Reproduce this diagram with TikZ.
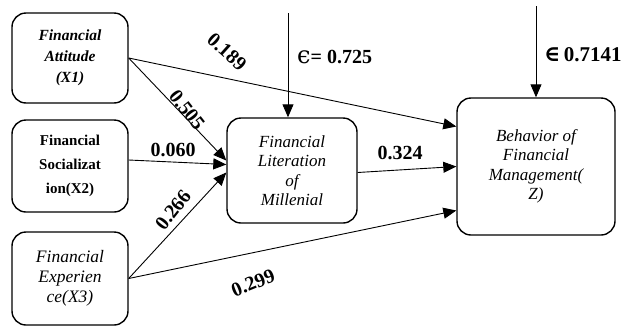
\documentclass[tikz,border=0pt]{standalone}
\usepackage{fontspec}
\setmainfont{Liberation Serif}
\newfontfamily\symfont{DejaVu Serif}
\usepackage{tikz}
\usetikzlibrary{
  arrows.meta,
  calc
}
\newcommand{\boxfont}{\fontsize{15.5}{21}\selectfont}
\newcommand{\litfont}{\fontsize{17}{19.5}\selectfont}
\newcommand{\coeffont}{\fontsize{20}{22}\selectfont\bfseries}

\begin{document}
\begin{tikzpicture}[x=1pt,y=-1pt,
  var/.style ={draw,line width=1.4pt,rounded corners=14pt,align=center,
               inner sep=2pt,font=\boxfont},
  coef/.style={inner sep=0pt,font=\coeffont},
  arr/.style ={-{Triangle[length=13pt,width=11pt]},line width=0.9pt},
]
\useasboundingbox (0,0) rectangle (632,327);

\node[var,minimum width=116,minimum height=90,font=\boxfont\bfseries\itshape]
  (x1) at (70,58) {Financial\\ Attitude\\ (X1)};
\node[var,minimum width=116,minimum height=92,font=\fontsize{15}{24}\selectfont\bfseries]
  (x2) at (70,166) {Financial\\ Socializat\\ ion(X2)};
\node[var,minimum width=116,minimum height=93,font=\fontsize{17.5}{20}\selectfont\itshape]
  (x3) at (70,278.5) {Financial\\ Experien\\ ce(X3)};
\node[var,minimum width=130,minimum height=105,font=\litfont\itshape]
  (lit) at (292,170.5) {Financial\\ Literation\\ of\\ Millenial};
\node[var,minimum width=158,minimum height=137,font=\litfont\itshape]
  (z) at (536,166.5) {Behavior of\\ Financial\\ Management(\\ Z)};

\draw[arr] (x1.east) -- ($(z.west)+(0,-40)$);
\draw[arr] (x1.east) -- ($(lit.west)+(0,-10)$);
\draw[arr] ($(x2.east)+(0,-6)$) -- ($(lit.west)+(0,-6)$);
\draw[arr] (x3.east) -- ($(lit.west)+(0,2)$);
\draw[arr] (x3.east) -- ($(z.west)+(0,44)$);
\draw[arr] ($(lit.east)+(0,2)$) -- (z.west);

% residuals
\coordinate (e1) at (288,13);
\coordinate (e2) at (536,6);
\draw[arr] (e1) -- (e1 |- lit.north);
\draw[arr] (e2) -- (z.north);
\node[coef,anchor=west] (eps1) at (297,57)
  {{\symfont\mdseries\fontsize{24}{24}\selectfont ϵ}= 0.725};
\node[coef,anchor=west] (eps2) at (544,55)
  {{\symfont\fontsize{22}{22}\selectfont ∈}\,\fontsize{21}{22}\selectfont 0.7141};

% path coefficients
\node[coef,rotate=-42] (c189) at (227,52)  {0.189};
\node[coef,rotate=-52] (c505) at (187,110) {0.505};
\node[coef]            (c060) at (173,150) {0.060};
\node[coef,rotate=52]  (c266) at (173,210) {0.266};
\node[coef,rotate=22]  (c299) at (253,283) {0.299};
\node[coef]            (c324) at (400,153) {0.324};
\end{tikzpicture}
\end{document}
